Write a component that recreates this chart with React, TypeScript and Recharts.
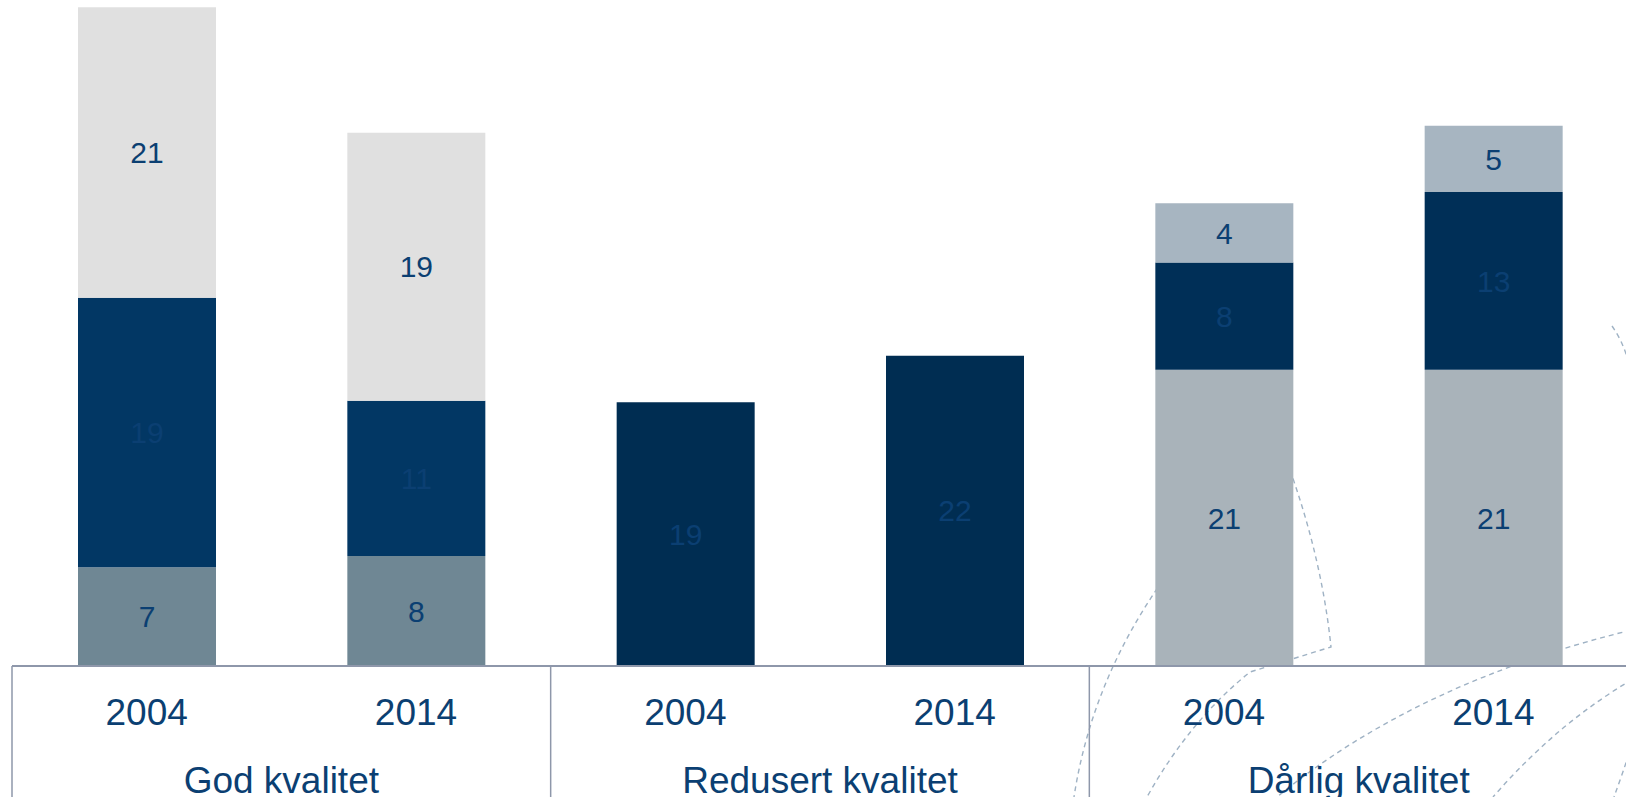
import { BarChart, Bar, XAxis, YAxis, Cell, LabelList } from 'recharts';

// categories and values (value labels are rounded)
const years = ['2004', '2014', '2004', '2014', '2004', '2014'];
const groups = [
  'God kvalitet', 'God kvalitet',
  'Redusert kvalitet', 'Redusert kvalitet',
  'Dårlig kvalitet', 'Dårlig kvalitet',
];
const bottomValues = [7.0, 7.8, 18.7, 22.0, 21.0, 21.0];
const middleValues = [19.1, 11.0, 0, 0, 7.6, 12.6];
const topValues = [20.6, 19.0, 0, 0, 4.2, 4.7];

const bottomColors = ['#6F8794', '#6F8794', '#002D52', '#002D52', '#A9B3BA', '#A9B3BA'];
const middleColors = ['#023764', '#023764', '#023764', '#023764', '#002F57', '#002F57'];
const topColors = ['#E0E0E0', '#E0E0E0', '#E0E0E0', '#E0E0E0', '#A7B5C1', '#A7B5C1'];

const data = years.map((year, i) => ({
  year,
  group: groups[i],
  bottom: bottomValues[i],
  middle: middleValues[i],
  top: topValues[i],
}));

const W = 1630;
const H = 797;
const LEFT = 12;
const RIGHT = 2;
const BAND = (W - LEFT - RIGHT) / years.length;
const TEXT = '#0B3F72';
const LINE = '#8E97AA';
const FONT = '"Liberation Sans", Arial, sans-serif';

const fmt = (v: any) => (v ? Math.round(Number(v)) : '');

function YearTick(props: any) {
  const { x, y, payload } = props;
  return (
    <text x={x} y={y + 46} textAnchor="middle" dominantBaseline="central"
      fill={TEXT} fontSize={37} fontFamily={FONT}>
      {payload.value}
    </text>
  );
}

function GroupTick(props: any) {
  const { x, y, payload, index } = props;
  if (index % 2 !== 0) return null;
  const left = x - BAND / 2;
  return (
    <g>
      <line x1={left} x2={left} y1={y - 60} y2={H} stroke={LINE} strokeWidth={1.5} />
      {index === years.length - 2 && (
        <line x1={left + BAND * 2} x2={left + BAND * 2} y1={y - 60} y2={H} stroke={LINE} strokeWidth={1.5} />
      )}
      <text x={x + BAND / 2} y={y + 54} textAnchor="middle" dominantBaseline="central"
        fill={TEXT} fontSize={37} fontFamily={FONT}>
        {payload.value}
      </text>
    </g>
  );
}

// decorative dashed watermark behind the bars
const arcs = [
  'M 1190 545 Q 1095 660 1074 797',
  'M 1290 470 Q 1322 560 1331 647 L 1250 672 Q 1190 720 1147 797',
  'M 1640 628 Q 1420 680 1277 797',
  'M 1640 675 Q 1560 720 1493 797',
  'M 1612 326 Q 1622 340 1628 360',
  'M 1632 745 Q 1622 775 1614 797',
];

export default function App() {
  const labelProps = { fill: TEXT, fontSize: 30, fontFamily: FONT, formatter: fmt };
  return (
    <div style={{ position: 'absolute', left: 0, top: 0, width: 1626, height: H, overflow: 'hidden', background: '#fff' }}>
      <svg width={1626} height={H} style={{ position: 'absolute', left: 0, top: 0 }}>
        {arcs.map((d, i) => (
          <path key={i} d={d} fill="none" stroke="#9FB2C4" strokeWidth={1.4} strokeDasharray="5 4" />
        ))}
      </svg>
      <div style={{ position: 'absolute', left: 0, top: 0 }}>
        <BarChart width={W} height={H} data={data} barSize={138}
          margin={{ top: 3, right: RIGHT, left: LEFT, bottom: 0 }}>
          <YAxis hide domain={[0, 47]} />
          <XAxis dataKey="year" height={60} tickLine={false} tickSize={0} tickMargin={0}
            axisLine={{ stroke: LINE, strokeWidth: 2 }} tick={<YearTick />} interval={0} />
          <XAxis xAxisId="grp" dataKey="group" height={71} tickLine={false} tickSize={0} tickMargin={0}
            axisLine={false} tick={<GroupTick />} interval={0} />
          <Bar dataKey="bottom" stackId="a" isAnimationActive={false}>
            {data.map((_, i) => <Cell key={i} fill={bottomColors[i]} />)}
            <LabelList dataKey="bottom" position="center" {...labelProps} />
          </Bar>
          <Bar dataKey="middle" stackId="a" isAnimationActive={false}>
            {data.map((_, i) => <Cell key={i} fill={middleColors[i]} />)}
            <LabelList dataKey="middle" position="center" {...labelProps} />
          </Bar>
          <Bar dataKey="top" stackId="a" isAnimationActive={false}>
            {data.map((_, i) => <Cell key={i} fill={topColors[i]} />)}
            <LabelList dataKey="top" position="center" {...labelProps} />
          </Bar>
        </BarChart>
      </div>
    </div>
  );
}
